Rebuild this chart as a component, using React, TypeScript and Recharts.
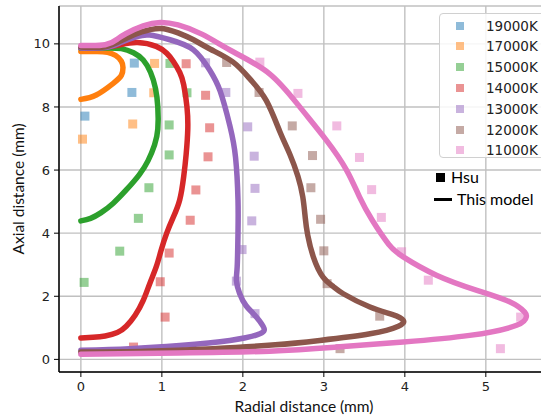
import { ComposedChart, Scatter, XAxis, YAxis, CartesianGrid } from "recharts";

type Pt = [number, number];

const TEMPS = ["19000K", "17000K", "15000K", "14000K", "13000K", "12000K", "11000K"];
const COLORS = ["#1f77b4", "#ff7f0e", "#2ca02c", "#d62728", "#9467bd", "#8c564b", "#e377c2"];

// Hsu measurements (radial mm, axial mm)
const hsu19000: Pt[] = [[0.66, 9.39], [0.63, 8.46], [0.05, 7.71]];
const hsu17000: Pt[] = [[0.91, 9.38], [0.9, 8.45], [0.64, 7.46], [0.02, 6.98]];
const hsu15000: Pt[] = [
  [1.1, 9.38], [1.31, 8.45], [1.09, 7.43], [1.09, 6.48], [0.84, 5.44],
  [0.71, 4.47], [0.48, 3.43], [0.04, 2.44],
];
const hsu14000: Pt[] = [
  [1.3, 9.37], [1.54, 8.37], [1.59, 7.34], [1.57, 6.42], [1.42, 5.37],
  [1.35, 4.41], [1.09, 3.37], [0.98, 2.46], [1.04, 1.34], [0.65, 0.39],
];
const hsu13000: Pt[] = [
  [1.54, 9.4], [1.79, 8.46], [2.06, 7.37], [2.14, 6.44], [2.15, 5.42],
  [2.11, 4.39], [1.99, 3.48], [1.92, 2.48], [2.15, 1.45],
];
const hsu12000: Pt[] = [
  [1.8, 9.41], [2.2, 8.46], [2.61, 7.4], [2.86, 6.46], [2.84, 5.44],
  [2.96, 4.44], [3.0, 3.44], [3.04, 2.4], [3.69, 1.37], [3.2, 0.34],
];
const hsu11000: Pt[] = [
  [2.21, 9.42], [2.68, 8.43], [3.16, 7.4], [3.44, 6.4], [3.59, 5.38],
  [3.71, 4.5], [3.96, 3.41], [4.29, 2.51], [5.43, 1.34], [5.18, 0.34],
];

const model17000: Pt[] = [
  [0, 9.76], [0.2, 9.76], [0.33, 9.73], [0.43, 9.63], [0.5, 9.45], [0.52, 9.25],
  [0.5, 9.0], [0.4, 8.75], [0.19, 8.38], [0, 8.24],
];
const model15000: Pt[] = [
  [0, 9.86], [0.3, 9.87], [0.5, 9.85], [0.65, 9.72], [0.77, 9.49], [0.86, 9.1],
  [0.92, 8.6], [0.95, 8.0], [0.95, 7.3], [0.91, 6.8], [0.83, 6.3], [0.72, 5.85],
  [0.56, 5.37], [0.4, 4.95], [0.25, 4.65], [0.12, 4.47], [0, 4.39],
];
const model14000: Pt[] = [
  [0, 9.88], [0.3, 9.9], [0.5, 9.98], [0.7, 10.04], [0.93, 9.92], [1.06, 9.7],
  [1.14, 9.45], [1.22, 9.1], [1.27, 8.7], [1.31, 8.0], [1.32, 7.3], [1.3, 6.5],
  [1.27, 5.8], [1.22, 5.05], [1.14, 4.5], [1.06, 4.0], [0.99, 3.45], [0.93, 2.93],
  [0.85, 2.4], [0.77, 1.87], [0.67, 1.4], [0.56, 1.05], [0.45, 0.85], [0.3, 0.74],
  [0.15, 0.7], [0, 0.68],
];
const model13000: Pt[] = [
  [0, 9.87], [0.3, 9.88], [0.5, 10.05], [0.69, 10.23], [0.85, 10.28], [1.1, 10.13],
  [1.39, 9.81], [1.59, 9.17], [1.72, 8.5], [1.84, 7.4], [1.91, 6.4], [1.94, 5.05],
  [1.94, 4.0], [1.93, 2.93], [1.92, 2.5], [1.96, 2.09], [2.04, 1.7], [2.14, 1.42],
  [2.25, 1.05], [2.21, 0.81], [1.84, 0.6], [1.22, 0.44], [0.6, 0.34], [0, 0.29],
];
const model12000: Pt[] = [
  [0, 9.9], [0.3, 9.91], [0.56, 10.18], [0.75, 10.38], [0.98, 10.49], [1.2, 10.35],
  [1.39, 10.13], [1.6, 9.83], [1.88, 9.42], [2.1, 8.85], [2.29, 8.2], [2.46, 7.2],
  [2.58, 6.5], [2.68, 5.8], [2.74, 5.15], [2.77, 4.5], [2.8, 3.95], [2.87, 3.25],
  [2.99, 2.61], [3.12, 2.3], [3.24, 2.08], [3.57, 1.66], [3.85, 1.42], [3.98, 1.24],
  [3.92, 1.05], [3.57, 0.81], [2.95, 0.6], [2.4, 0.46], [1.63, 0.34], [0.81, 0.26],
  [0, 0.23],
];
const model11000: Pt[] = [
  [0, 9.95], [0.3, 9.97], [0.45, 10.15], [0.56, 10.33], [0.77, 10.57], [0.98, 10.68],
  [1.2, 10.6], [1.5, 10.3], [1.88, 9.75], [2.33, 9.05], [2.7, 8.01], [3.03, 6.95],
  [3.28, 6.0], [3.44, 5.15], [3.6, 4.4], [3.8, 3.65], [3.98, 3.25], [4.39, 2.67],
  [4.89, 2.19], [5.3, 1.82], [5.48, 1.5], [5.5, 1.35], [5.38, 1.08], [4.8, 0.76],
  [3.98, 0.55], [3.16, 0.39], [2.33, 0.26], [1.2, 0.2], [0, 0.16],
];

const HSU = [hsu19000, hsu17000, hsu15000, hsu14000, hsu13000, hsu12000, hsu11000];
const MODEL = [null, model17000, model15000, model14000, model13000, model12000, model11000];

const X_TICKS = [0, 1, 2, 3, 4, 5];
const Y_TICKS = [0, 2, 4, 6, 8, 10];

const toRows = (pts: Pt[]) => pts.map(([x, y]) => ({ x, y }));

const TICK_FONT = "DejaVu Sans, sans-serif";
const TITLE_FONT = "Lato, sans-serif";

const YTitle = ({ viewBox }: any) => {
  const cx = viewBox.x + 18;
  const cy = viewBox.y + viewBox.height / 2;
  return (
    <text
      x={cx}
      y={cy}
      transform={`rotate(-90 ${cx} ${cy})`}
      textAnchor="middle"
      dominantBaseline="central"
      fontFamily={TITLE_FONT}
      fontSize={15.5}
      fill="#111"
    >
      Axial distance (mm)
    </text>
  );
};

const XTitle = ({ viewBox }: any) => (
  <text
    x={viewBox.x + viewBox.width / 2}
    y={406}
    textAnchor="middle"
    dominantBaseline="central"
    fontFamily={TITLE_FONT}
    fontSize={15.5}
    fill="#111"
  >
    Radial distance (mm)
  </text>
);

const square = (color: string) => (props: any) => (
  <rect
    x={props.cx - 4.5}
    y={props.cy - 4.5}
    width={9}
    height={9}
    fill={color}
    fillOpacity={0.5}
  />
);

export default function App() {
  return (
    <div
      style={{
        position: "absolute",
        left: 0,
        top: 0,
        width: 541,
        height: 418,
        overflow: "hidden",
        background: "#fff",
      }}
    >
      <ComposedChart width={549} height={418} margin={{ top: 6, right: 0, left: 0, bottom: 0 }}>
        <CartesianGrid stroke="#c0c0c0" strokeWidth={1.4} />
        <XAxis
          type="number"
          dataKey="x"
          domain={[-0.27, 5.78]}
          ticks={X_TICKS}
          allowDataOverflow
          height={46}
          tickSize={5}
          tickMargin={5}
          axisLine={{ stroke: "#000", strokeWidth: 1.5 }}
          tickLine={{ stroke: "#000" }}
          tick={{ fontFamily: TICK_FONT, fontSize: 13, fill: "#222" }}
          label={<XTitle />}
        />
        <XAxis
          xAxisId="top"
          orientation="top"
          type="number"
          domain={[-0.27, 5.78]}
          height={0}
          tick={false}
          tickLine={false}
          axisLine={{ stroke: "#000", strokeWidth: 1.5 }}
        />
        <YAxis
          type="number"
          dataKey="y"
          domain={[-0.4, 11.2]}
          ticks={Y_TICKS}
          allowDataOverflow
          width={59}
          tickSize={5}
          tickMargin={4}
          axisLine={{ stroke: "#000", strokeWidth: 1.5 }}
          tickLine={{ stroke: "#000" }}
          tick={{ fontFamily: TICK_FONT, fontSize: 13, fill: "#222" }}
          label={<YTitle />}
        />
        {HSU.map((pts, i) => (
          <Scatter
            key={`hsu-${TEMPS[i]}`}
            name={TEMPS[i]}
            data={toRows(pts)}
            shape={square(COLORS[i])}
            isAnimationActive={false}
          />
        ))}
        {MODEL.map((pts, i) =>
          pts ? (
            <Scatter
              key={`model-${TEMPS[i]}`}
              data={toRows(pts)}
              fill={COLORS[i]}
              line={{ stroke: COLORS[i], strokeWidth: 5.5, strokeLinecap: "round", strokeLinejoin: "round" }}
              lineJointType="natural"
              shape={() => <g />}
              isAnimationActive={false}
            />
          ) : null
        )}
      </ComposedChart>

      {/* temperature legend */}
      <div
        style={{
          position: "absolute",
          left: 439,
          top: 13,
          width: 120,
          height: 145,
          boxSizing: "border-box",
          border: "1px solid #d0d0d0",
          borderRadius: 4,
          background: "rgba(255,255,255,0.85)",
          fontFamily: TICK_FONT,
          fontSize: 13.5,
          color: "#222",
        }}
      >
        {TEMPS.map((t, i) => (
          <div
            key={t}
            style={{ position: "absolute", left: 0, top: 3 + i * 20.8, height: 17, display: "flex", alignItems: "center" }}
          >
            <span
              style={{
                position: "absolute",
                left: 16,
                width: 8,
                height: 8,
                background: COLORS[i],
                opacity: 0.5,
              }}
            />
            <span style={{ position: "absolute", left: 46, whiteSpace: "nowrap" }}>{t}</span>
          </div>
        ))}
      </div>

      {/* marker key */}
      <div
        style={{
          position: "absolute",
          left: 434,
          top: 166,
          fontFamily: TITLE_FONT,
          fontSize: 16,
          color: "#000",
          lineHeight: "22px",
          whiteSpace: "nowrap",
        }}
      >
        <div style={{ display: "flex", alignItems: "center" }}>
          <span style={{ display: "inline-block", width: 9, height: 9, background: "#000", marginLeft: 2, marginRight: 6 }} />
          Hsu
        </div>
        <div style={{ display: "flex", alignItems: "center" }}>
          <span style={{ display: "inline-block", width: 18, height: 3, background: "#000", marginRight: 5 }} />
          This model
        </div>
      </div>
    </div>
  );
}
